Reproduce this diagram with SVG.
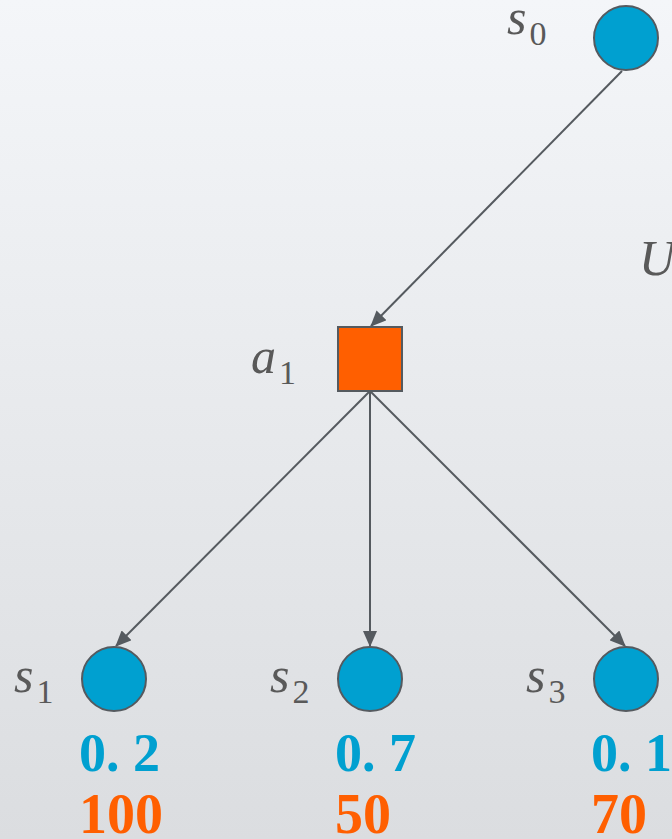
<svg xmlns="http://www.w3.org/2000/svg" width="672" height="839" viewBox="0 0 672 839">
  <defs>
    <linearGradient id="bg" x1="0" y1="0" x2="0" y2="1">
      <stop offset="0" stop-color="#f4f6f9"/>
      <stop offset="1" stop-color="#dbdde0"/>
    </linearGradient>
    <marker id="arr" markerUnits="userSpaceOnUse" markerWidth="16" markerHeight="14" viewBox="0 0 16 14" refX="15" refY="7" orient="auto">
      <path d="M0,0 L16,7 L0,14 Z" fill="#555a5f"/>
    </marker>
    <style>
      .state { fill: #00a0d0; stroke: #555a5f; stroke-width: 2; }
      .action { fill: #ff5f00; stroke: #555a5f; stroke-width: 2; }
      .edge { stroke: #555a5f; stroke-width: 2; fill: none; marker-end: url(#arr); }
      .lbl { font-family: "Liberation Serif", serif; font-style: italic; fill: #595959; font-size: 50px; }
      .sub { font-family: "Liberation Serif", serif; fill: #595959; font-size: 34px; font-style: normal; }
      .prob { font-family: "Liberation Serif", serif; font-weight: bold; fill: #00a0d0; font-size: 54px; }
      .rew { font-family: "Liberation Serif", serif; font-weight: bold; fill: #ff5f00; font-size: 56px; }
    </style>
  </defs>
  <rect x="0" y="0" width="672" height="839" fill="url(#bg)"/>

  <g id="connectors">
    <line class="edge" x1="622" y1="71" x2="371" y2="326"/>
    <line class="edge" x1="370" y1="391" x2="116" y2="646"/>
    <line class="edge" x1="370" y1="391" x2="370" y2="646"/>
    <line class="edge" x1="370" y1="391" x2="625" y2="646"/>
  </g>

  <g id="s0">
    <circle class="state" cx="626" cy="38" r="32"/>
    <text class="lbl" x="507" y="34">s<tspan class="sub" dx="3" dy="11">0</tspan></text>
  </g>

  <g id="a1">
    <rect class="action" x="338" y="327" width="64" height="64"/>
    <text class="lbl" x="251" y="373">a<tspan class="sub" dx="3" dy="11">1</tspan></text>
  </g>

  <g id="U">
    <text class="lbl" x="639" y="275" font-size="56">U</text>
  </g>

  <g id="s1">
    <circle class="state" cx="114" cy="679" r="32"/>
    <text class="lbl" x="14" y="692">s<tspan class="sub" dx="3" dy="11">1</tspan></text>
    <text class="prob" x="79" y="771">0. 2</text>
    <text class="rew" x="79" y="833">100</text>
  </g>

  <g id="s2">
    <circle class="state" cx="370" cy="679" r="32"/>
    <text class="lbl" x="270" y="692">s<tspan class="sub" dx="3" dy="11">2</tspan></text>
    <text class="prob" x="335" y="771">0. 7</text>
    <text class="rew" x="335" y="833">50</text>
  </g>

  <g id="s3">
    <circle class="state" cx="626" cy="679" r="32"/>
    <text class="lbl" x="526" y="692">s<tspan class="sub" dx="3" dy="11">3</tspan></text>
    <text class="prob" x="591" y="771">0. 1</text>
    <text class="rew" x="591" y="833">70</text>
  </g>
</svg>
